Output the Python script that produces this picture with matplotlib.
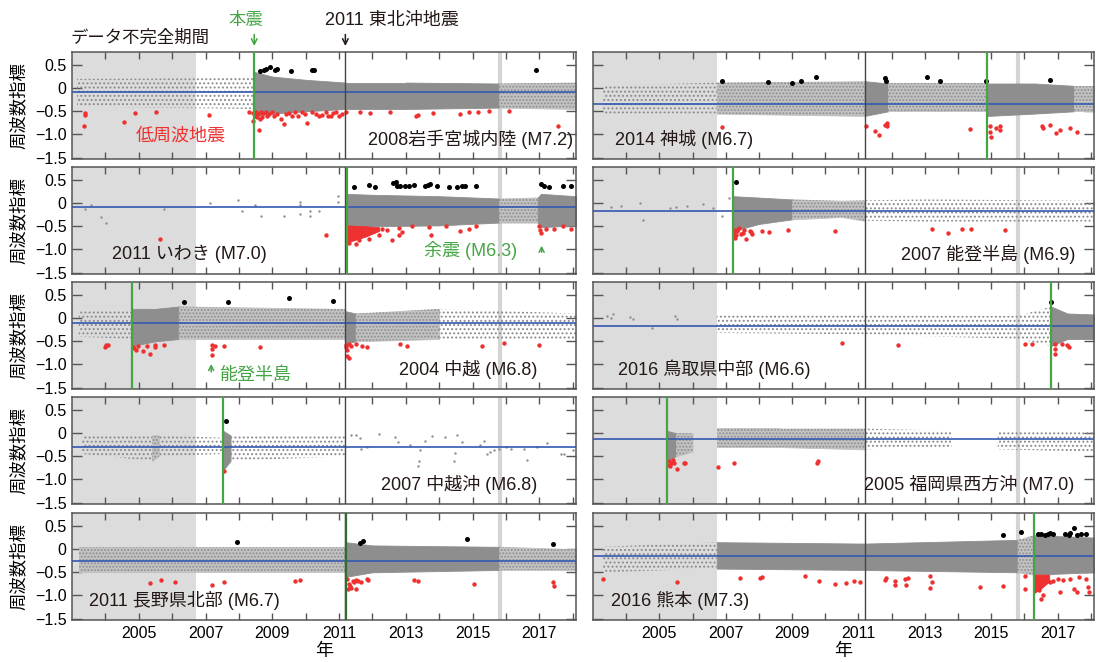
#!/usr/bin/env python3
"""Frequency index time series for ten inland earthquakes (2 x 5 panels)."""

import matplotlib
matplotlib.use("Agg")
import matplotlib.pyplot as plt
from matplotlib.ticker import FixedLocator, FuncFormatter

# Helvetica-like latin glyphs, CJK glyphs fall back to Noto
plt.rcParams['font.family'] = ['Liberation Sans', 'Noto Sans CJK JP', 'DejaVu Sans']
plt.rcParams['hatch.linewidth'] = 0.9

# ---- shared dates ----------------------------------------------------------
INCOMPLETE_END = 2006.73      # end of incomplete-data period
TOHOKU = 2011.19              # 2011 Tohoku-oki
GAP_LINE = 2015.82            # light gray vertical line
XLIM = (2003.0, 2018.1)
YLIM = (-1.53, 0.78)

# ---- per-panel data ---------------------------------------------------------
# cloud knots: (year, lower, upper, density of segment to next knot 0..3)
iwate_cloud = [(2003.15, -0.40, 0.20, 1), (2008.40, -0.45, 0.22, 1), (2008.46, -0.60, 0.35, 3),
               (2009.0, -0.55, 0.25, 3), (2010.0, -0.50, 0.18, 3), (2011.2, -0.45, 0.12, 3),
               (2013.0, -0.45, 0.12, 3), (2015.8, -0.42, 0.10, 2), (2018.1, -0.45, 0.12, 0)]
iwate_red = [(2003.40, -0.54), (2003.40, -0.57), (2003.35, -0.82), (2004.56, -0.73), (2004.88, -0.54),
             (2005.51, -0.52), (2007.09, -0.57), (2008.30, -0.51), (2008.41, -0.54), (2008.41, -0.71),
             (2008.49, -0.60), (2008.56, -0.56), (2008.62, -0.66), (2008.60, -0.90), (2008.72, -0.54),
             (2008.83, -0.60), (2008.99, -0.52), (2009.14, -0.56), (2009.25, -0.67), (2009.35, -0.78),
             (2009.51, -0.54), (2009.67, -0.52), (2009.78, -0.60), (2009.99, -0.56), (2010.04, -0.76),
             (2010.20, -0.52), (2010.41, -0.60), (2010.62, -0.52), (2010.67, -0.60), (2010.83, -0.54),
             (2010.99, -0.60), (2011.20, -0.52), (2008.50, -0.52), (2008.55, -0.62), (2008.65, -0.52),
             (2008.70, -0.62), (2008.80, -0.52), (2008.90, -0.56), (2009.05, -0.60), (2009.40, -0.56),
             (2009.60, -0.60), (2009.90, -0.52), (2010.30, -0.55), (2010.50, -0.57), (2010.75, -0.60),
             (2010.90, -0.52), (2011.10, -0.55), (2011.62, -0.52), (2011.94, -0.54), (2012.52, -0.51),
             (2013.31, -0.60), (2013.36, -0.57), (2013.83, -0.54), (2014.62, -0.56), (2014.89, -0.52),
             (2015.15, -0.52), (2015.50, -0.50), (2016.10, -0.50), (2017.57, -0.81)]
iwate_black = [(2008.64, 0.37), (2008.74, 0.39), (2008.81, 0.41), (2008.93, 0.45), (2009.09, 0.39),
               (2009.14, 0.41), (2009.56, 0.37), (2010.20, 0.40), (2010.25, 0.39), (2016.89, 0.39)]

iwaki_cloud = [(2011.24, -0.55, 0.20, 3), (2012.0, -0.50, 0.18, 3), (2014.0, -0.48, 0.15, 3),
               (2015.8, -0.42, 0.10, 2), (2016.95, -0.42, 0.12, 3), (2017.05, -0.52, 0.20, 3),
               (2018.1, -0.48, 0.15, 0)]
iwaki_gray = [(2003.40, -0.13), (2003.58, -0.05), (2003.87, -0.31), (2004.03, -0.43), (2005.77, -0.13),
              (2007.14, 0.00), (2007.96, 0.07), (2008.09, -0.16), (2008.49, -0.05), (2008.67, -0.28),
              (2009.35, -0.28), (2009.83, 0.02), (2009.83, -0.05), (2009.83, -0.24), (2010.14, -0.18),
              (2010.14, -0.28), (2010.41, -0.18), (2010.96, 0.15), (2010.96, 0.02)]
iwaki_red_band = [(2011.24, -0.85, -0.48), (2011.8, -0.72, -0.50), (2012.2, -0.60, -0.52)]
iwaki_red = [(2005.64, -0.78), (2010.62, -0.69), (2011.30, -0.85), (2011.50, -0.88), (2011.60, -0.80),
             (2011.90, -0.78), (2012.20, -0.68), (2012.30, -0.55), (2012.45, -0.58), (2012.60, -0.80),
             (2012.80, -0.54), (2012.80, -0.69), (2012.90, -0.62), (2013.20, -0.50), (2013.70, -0.52),
             (2013.76, -0.69), (2014.20, -0.50), (2014.62, -0.60), (2014.88, -0.55), (2015.10, -0.50),
             (2017.00, -0.50), (2017.02, -0.58), (2017.05, -0.65), (2017.20, -0.55), (2017.45, -0.56),
             (2017.70, -0.50), (2017.95, -0.55)]
iwaki_black = [(2011.46, 0.34), (2011.90, 0.40), (2012.09, 0.34), (2012.62, 0.43), (2012.70, 0.46),
               (2012.73, 0.37), (2012.83, 0.36), (2012.99, 0.38), (2013.09, 0.36), (2013.25, 0.39),
               (2013.57, 0.37), (2013.67, 0.40), (2013.73, 0.42), (2013.94, 0.36), (2014.31, 0.35),
               (2014.52, 0.34), (2014.68, 0.38), (2014.78, 0.38), (2015.10, 0.38), (2017.05, 0.42),
               (2017.15, 0.36), (2017.30, 0.35), (2017.70, 0.36), (2017.95, 0.37)]

chuetsu_cloud = [(2003.2, -0.40, 0.15, 1), (2004.78, -0.45, 0.15, 1), (2004.80, -0.60, 0.20, 3),
                 (2005.5, -0.50, 0.20, 3), (2006.2, -0.45, 0.25, 2), (2011.17, -0.45, 0.20, 2),
                 (2011.19, -0.55, 0.15, 3), (2011.5, -0.50, 0.10, 2), (2014.0, -0.45, 0.20, 1),
                 (2018.1, -0.45, 0.10, 0)]
chuetsu_red = [(2003.98, -0.62), (2004.03, -0.59), (2004.09, -0.58), (2004.82, -0.62), (2004.85, -0.65),
               (2004.91, -0.69), (2004.98, -0.60), (2005.14, -0.71), (2005.24, -0.60), (2005.33, -0.78),
               (2005.48, -0.62), (2005.49, -0.58), (2005.77, -0.59), (2007.19, -0.58), (2007.19, -0.66),
               (2007.27, -0.60), (2007.19, -0.80), (2007.56, -0.60), (2008.62, -0.62), (2011.20, -0.58),
               (2011.22, -0.63), (2011.25, -0.68), (2011.30, -0.56), (2011.35, -0.60), (2011.25, -0.82),
               (2011.30, -0.87), (2011.50, -0.55), (2011.70, -0.60), (2011.85, -0.62), (2012.83, -0.56),
               (2013.03, -0.60), (2015.28, -0.60), (2015.95, -0.53), (2016.98, -0.58)]
chuetsu_black = [(2006.35, 0.35), (2007.67, 0.35), (2009.51, 0.44), (2010.81, 0.38)]

chuetsuoki_cloud = [(2003.3, -0.45, -0.05, 1), (2005.4, -0.60, -0.05, 2), (2005.6, -0.50, -0.05, 1),
                    (2007.50, -0.45, -0.10, 3), (2007.53, -0.80, 0.05, 3), (2007.75, -0.60, -0.05, 1),
                    (2011.19, -0.50, -0.05, 0), (2018.1, -0.50, -0.05, 0)]
chuetsuoki_gray = [(2011.36, -0.05), (2011.51, -0.05), (2011.62, -0.11), (2011.67, -0.35), (2011.83, -0.31),
                   (2012.20, -0.01), (2012.67, -0.08), (2012.78, -0.19), (2013.13, -0.26), (2013.36, -0.72),
                   (2013.41, -0.61), (2013.43, -0.37), (2013.58, -0.16), (2013.78, -0.06), (2014.18, -0.09),
                   (2014.43, -0.60), (2014.46, -0.42), (2014.53, -0.04), (2014.68, -0.19), (2015.23, -0.26),
                   (2015.33, -0.16), (2015.43, -0.45), (2015.53, -0.41), (2015.63, -0.37), (2015.78, -0.35),
                   (2015.99, -0.31), (2016.16, -0.34), (2016.54, -0.34), (2016.62, -0.57), (2016.94, -0.31),
                   (2017.22, -0.21), (2017.64, -0.45), (2017.74, -0.45), (2018.02, -0.37)]
chuetsuoki_red = [(2007.55, -0.81)]
chuetsuoki_black = [(2007.60, 0.26)]

nagano_cloud = [(2003.2, -0.50, 0.05, 2), (2011.17, -0.50, 0.05, 2), (2011.19, -0.60, 0.15, 3),
                (2012.0, -0.50, 0.08, 3), (2015.8, -0.45, 0.05, 2), (2018.1, -0.45, 0.00, 0)]
nagano_red = [(2005.33, -0.74), (2005.67, -0.67), (2006.09, -0.71), (2007.19, -0.78), (2007.56, -0.72),
              (2009.67, -0.69), (2009.83, -0.67), (2011.25, -0.65), (2011.30, -0.76), (2011.36, -0.84),
              (2011.41, -0.69), (2011.46, -0.72), (2011.51, -0.66), (2011.57, -0.69), (2011.67, -0.71),
              (2011.83, -0.65), (2011.88, -0.66), (2011.51, -0.86), (2011.33, -0.80), (2011.27, -0.87),
              (2013.25, -0.66), (2013.36, -0.69), (2015.04, -0.75), (2017.40, -0.70), (2017.45, -0.80)]
nagano_black = [(2007.93, 0.16), (2011.62, 0.13), (2011.72, 0.17), (2014.83, 0.21), (2017.40, 0.10)]

kamishiro_cloud = [(2003.3, -0.55, 0.05, 1), (2006.73, -0.55, 0.12, 2), (2011.19, -0.60, 0.15, 3),
                   (2011.9, -0.50, 0.10, 2), (2014.87, -0.50, 0.10, 2), (2014.89, -0.60, 0.10, 3),
                   (2016.3, -0.55, 0.10, 3), (2017.5, -0.50, 0.05, 2), (2018.1, -0.50, 0.05, 0)]
kamishiro_red = [(2006.88, -0.84), (2011.24, -0.82), (2011.50, -0.92), (2011.61, -1.02), (2011.80, -0.79),
                 (2011.85, -0.81), (2011.87, -0.76), (2014.36, -0.89), (2014.97, -0.81), (2014.97, -0.94),
                 (2014.99, -1.05), (2015.14, -0.86), (2015.27, -0.81), (2015.27, -0.90), (2016.54, -0.81),
                 (2016.56, -0.86), (2016.77, -0.79), (2016.95, -0.96), (2017.08, -0.90), (2017.39, -0.86),
                 (2017.58, -0.94)]
kamishiro_black = [(2006.90, 0.15), (2008.26, 0.13), (2009.00, 0.11), (2009.26, 0.15), (2009.71, 0.24),
                   (2011.80, 0.21), (2011.82, 0.15), (2013.08, 0.24), (2013.47, 0.15), (2014.83, 0.15),
                   (2016.77, 0.17)]

noto_cloud = [(2007.23, -0.60, 0.15, 3), (2008.0, -0.45, 0.12, 3), (2009.0, -0.35, 0.08, 2),
              (2010.5, -0.30, 0.05, 2), (2011.19, -0.38, 0.06, 1), (2013.0, -0.40, 0.08, 1),
              (2018.1, -0.40, 0.05, 0)]
noto_gray = [(2003.53, -0.09), (2003.85, -0.07), (2004.42, 0.00), (2004.51, -0.37), (2005.31, -0.10),
             (2005.49, -0.09), (2005.83, -0.07), (2006.31, -0.01), (2006.62, -0.10), (2006.88, -0.28),
             (2007.11, 0.11)]
noto_red = [(2007.25, -0.57), (2007.30, -0.69), (2007.35, -0.61), (2007.40, -0.54), (2007.46, -0.67),
            (2007.51, -0.65), (2007.56, -0.57), (2007.61, -0.78), (2007.72, -0.60), (2007.77, -0.63),
            (2007.79, -0.67), (2007.24, -0.62), (2007.26, -0.70), (2007.28, -0.75), (2007.33, -0.58),
            (2008.08, -0.61), (2008.31, -0.63), (2008.87, -0.57), (2010.30, -0.61), (2013.21, -0.55),
            (2013.71, -0.65), (2014.13, -0.55), (2014.39, -0.55), (2015.41, -0.57)]
noto_black = [(2007.32, 0.45)]

tottori_cloud = [(2006.73, -0.32, 0.06, 1), (2011.19, -0.35, 0.06, 1), (2015.8, -0.45, 0.05, 1),
                 (2016.81, -0.60, 0.25, 3), (2017.3, -0.45, 0.10, 3), (2018.1, -0.45, 0.08, 0)]
tottori_gray = [(2003.43, 0.05), (2003.53, 0.00), (2003.59, 0.08), (2004.11, 0.03), (2004.21, -0.02),
                (2004.79, -0.21), (2005.47, 0.05), (2005.52, -0.02)]
tottori_red = [(2010.49, -0.53), (2012.18, -0.57), (2016.01, -0.55), (2016.22, -0.56), (2016.92, -0.55),
               (2016.92, -0.66), (2016.92, -0.77), (2017.13, -0.55), (2017.29, -0.57), (2017.34, -0.62)]
tottori_black = [(2016.80, 0.35)]

fukuoka_cloud = [(2005.23, -0.60, 0.05, 3), (2005.5, -0.50, 0.00, 2), (2006.0, -0.40, 0.00, 0),
                 (2006.73, -0.30, 0.10, 2), (2008.6, -0.30, 0.10, 2), (2011.19, -0.35, 0.10, 1),
                 (2013.8, -0.30, 0.05, 0), (2015.2, -0.35, 0.05, 1), (2018.1, -0.40, 0.05, 0)]
fukuoka_red = [(2005.28, -0.60), (2005.28, -0.68), (2005.31, -0.71), (2005.36, -0.64), (2005.42, -0.58),
               (2005.45, -0.65), (2005.52, -0.77), (2005.73, -0.65), (2005.78, -0.64), (2006.78, -0.74),
               (2007.25, -0.64), (2009.74, -0.64), (2009.78, -0.60)]
fukuoka_black = []

kumamoto_cloud = [(2003.3, -0.50, 0.05, 1), (2006.73, -0.42, 0.15, 3), (2011.19, -0.45, 0.12, 3),
                  (2015.8, -0.50, 0.20, 2), (2016.29, -0.55, 0.30, 3), (2018.1, -0.50, 0.25, 0)]
kumamoto_red_band = [(2016.29, -0.95, -0.55), (2016.5, -0.85, -0.55), (2016.75, -0.70, -0.55)]
kumamoto_red = [(2003.29, -0.65), (2005.52, -0.72), (2007.44, -0.62), (2008.03, -0.62), (2008.10, -0.60),
                (2009.39, -0.59), (2009.81, -0.68), (2010.30, -0.75), (2010.62, -0.74), (2010.86, -0.68),
                (2011.06, -0.70), (2011.80, -0.66), (2011.83, -0.62), (2012.09, -0.68), (2012.09, -0.77),
                (2012.39, -0.65), (2012.42, -0.77), (2012.50, -0.62), (2013.16, -0.57), (2013.21, -0.72),
                (2013.16, -0.83), (2014.67, -0.81), (2015.35, -0.80), (2016.01, -0.59), (2016.01, -0.87),
                (2016.45, -0.89), (2016.56, -1.00), (2016.50, -1.08), (2016.77, -0.72), (2016.87, -0.68),
                (2017.03, -0.65), (2017.08, -0.92), (2017.18, -0.66), (2017.39, -0.65), (2017.50, -0.85),
                (2017.60, -0.92), (2017.65, -0.60), (2017.86, -0.65), (2017.92, -0.81), (2017.94, -0.92)]
kumamoto_black = [(2015.35, 0.30), (2015.91, 0.38), (2016.40, 0.32), (2016.50, 0.33), (2016.61, 0.30),
                  (2016.71, 0.33), (2016.77, 0.35), (2016.87, 0.32), (2017.24, 0.33), (2017.34, 0.30),
                  (2017.39, 0.35), (2017.50, 0.45), (2017.60, 0.30), (2017.71, 0.32), (2017.86, 0.33)]

# label, mainshock year, mean level (blue line)
labels = ["2008岩手宮城内陸 (M7.2)", "2011 いわき (M7.0)", "2004 中越 (M6.8)", "2007 中越沖 (M6.8)",
          "2011 長野県北部 (M6.7)", "2014 神城 (M6.7)", "2007 能登半島 (M6.9)", "2016 鳥取県中部 (M6.6)",
          "2005 福岡県西方沖 (M7.0)", "2016 熊本 (M7.3)"]
mainshocks = [2008.46, 2011.24, 2004.80, 2007.53, 2011.20, 2014.89, 2007.23, 2016.81, 2005.23, 2016.29]
mean_levels = [-0.075, -0.09, -0.11, -0.295, -0.26, -0.34, -0.165, -0.16, -0.135, -0.14]

clouds = [iwate_cloud, iwaki_cloud, chuetsu_cloud, chuetsuoki_cloud, nagano_cloud,
          kamishiro_cloud, noto_cloud, tottori_cloud, fukuoka_cloud, kumamoto_cloud]
grays = [[], iwaki_gray, [], chuetsuoki_gray, [], [], noto_gray, tottori_gray, [], []]
reds = [iwate_red, iwaki_red, chuetsu_red, chuetsuoki_red, nagano_red,
        kamishiro_red, noto_red, tottori_red, fukuoka_red, kumamoto_red]
blacks = [iwate_black, iwaki_black, chuetsu_black, chuetsuoki_black, nagano_black,
          kamishiro_black, noto_black, tottori_black, fukuoka_black, kumamoto_black]
red_bands = [[], iwaki_red_band, [], [], [], [], [], [], [], kumamoto_red_band]

# ---- styles / layout ----------------------------------------------------------
GRAY = '#8e8e8e'
RED = '#ee3030'
GREEN = '#45a545'
BLUE = '#3558b0'
SPINE = '#555555'
W, H = 1096, 662

# label placement: (x year, ha)
label_pos = [(2018.0, 'right'), (2004.2, 'left'), (2016.95, 'right'), (2016.95, 'right'), (2003.5, 'left'),
             (2003.65, 'left'), (2017.55, 'right'), (2003.75, 'left'), (2017.5, 'right'), (2003.55, 'left')]


def draw_cloud(ax, knots):
    for (t0, lo0, hi0, d), (t1, lo1, hi1, _) in zip(knots[:-1], knots[1:]):
        xs, lo, hi = [t0, t1], [lo0, lo1], [hi0, hi1]
        if d == 3:
            # solid core; thin edge of the same colour hides seams between segments
            ax.fill_between(xs, lo, hi, facecolor=GRAY, edgecolor=GRAY, lw=0.6, zorder=2)
        elif d == 2:
            ax.fill_between(xs, lo, hi, facecolor='#c2c2c2', edgecolor='#c2c2c2', lw=0.6, zorder=2)
            ax.fill_between(xs, lo, hi, facecolor='none', edgecolor=GRAY,
                            hatch='.....', lw=0, zorder=2)
        elif d == 1:
            ax.fill_between(xs, lo, hi, facecolor='none', edgecolor='#8a8a8a',
                            hatch='....', lw=0, zorder=2)


def ytick_fmt(v, pos):
    if abs(v) < 1e-9:
        return '0'
    return f'{v:.1f}'.replace('-', '\u2212')


def xtick_fmt(v, pos):
    return f'{int(round(v))}' if int(round(v)) % 2 == 1 else ''


def create_figure():
    fig = plt.figure(figsize=(W / 100, H / 100), dpi=100)
    row_tops = [52, 167, 282, 397, 513]
    panel_h = 107
    col_x = [(72, 504), (593, 501)]

    axes = []
    for i in range(10):
        col, row = divmod(i, 5)
        x0, w = col_x[col]
        top = row_tops[row]
        ax = fig.add_axes([x0 / W, 1 - (top + panel_h) / H, w / W, panel_h / H])
        axes.append(ax)

        ax.set_xlim(*XLIM)
        ax.set_ylim(*YLIM)
        ax.axvspan(XLIM[0], INCOMPLETE_END, color='#dcdcdc', lw=0, zorder=0)
        ax.axvline(GAP_LINE, color='#d4d4d4', lw=3, zorder=1)

        draw_cloud(ax, clouds[i])
        if grays[i]:
            gx, gy = zip(*grays[i])
            ax.scatter(gx, gy, s=3, color=GRAY, lw=0, zorder=2)
        for (t0, lo0, hi0), (t1, lo1, hi1) in zip(red_bands[i][:-1], red_bands[i][1:]):
            ax.fill_between([t0, t1], [lo0, lo1], [hi0, hi1], facecolor=RED, edgecolor=RED,
                            lw=0.6, zorder=3)
        if reds[i]:
            rx, ry = zip(*reds[i])
            ax.scatter(rx, ry, s=10, color=RED, lw=0, zorder=3)
        if blacks[i]:
            bx, by = zip(*blacks[i])
            ax.scatter(bx, by, s=13, color='black', lw=0, zorder=3)

        ax.axhline(mean_levels[i], color=BLUE, lw=1.2, zorder=4)
        ax.axvline(TOHOKU, color='#444444', lw=1.0, zorder=4)
        ax.axvline(mainshocks[i], color='#2e6e2e' if i == 4 else GREEN, lw=1.6, zorder=5)

        lx, ha = label_pos[i]
        ax.text(lx, -1.1, labels[i], ha=ha, va='center', fontsize=13, color='#231815', zorder=6)

        ax.xaxis.set_major_locator(FixedLocator(list(range(2004, 2019))))
        ax.yaxis.set_major_locator(FixedLocator([-1.5, -1.0, -0.5, 0, 0.5]))
        ax.yaxis.set_major_formatter(FuncFormatter(ytick_fmt))
        ax.xaxis.set_major_formatter(FuncFormatter(xtick_fmt))
        ax.tick_params(direction='in', top=True, right=True, length=5, width=1.0,
                       color=SPINE, labelsize=11.5, pad=4)
        ax.tick_params(axis='y', length=7)
        if col == 1:
            ax.tick_params(labelleft=False)
        else:
            ax.set_ylabel('周波数指標', fontsize=12.5, labelpad=6)
        if row != 4:
            ax.tick_params(labelbottom=False)
        else:
            ax.set_xlabel('年', fontsize=13, labelpad=2)
        for sp in ax.spines.values():
            sp.set_color(SPINE)
            sp.set_linewidth(1.1)

    ax1 = axes[0]
    # annotations above the first panel
    ax1.text(2002.95, 1.14, 'データ不完全期間', transform=ax1.get_xaxis_transform(),
             ha='left', va='center', fontsize=12.5, color='#231815')
    ax1.text(mainshocks[0] - 0.25, 1.30, '本震', transform=ax1.get_xaxis_transform(),
             ha='center', va='center', fontsize=12.5, color=GREEN)
    ax1.annotate('', xy=(mainshocks[0], 1.03), xytext=(mainshocks[0], 1.19),
                 xycoords=ax1.get_xaxis_transform(),
                 arrowprops=dict(arrowstyle='->,head_length=0.4,head_width=0.2', color=GREEN, lw=1.1))
    ax1.text(TOHOKU - 0.62, 1.30, '2011 東北沖地震', transform=ax1.get_xaxis_transform(),
             ha='left', va='center', fontsize=13, color='#231815')
    ax1.annotate('', xy=(TOHOKU, 1.03), xytext=(TOHOKU, 1.19),
                 xycoords=ax1.get_xaxis_transform(),
                 arrowprops=dict(arrowstyle='->,head_length=0.4,head_width=0.2', color='#231815', lw=1.1))
    ax1.text(2006.25, -1.04, '低周波地震', ha='center', va='center', fontsize=13, color=RED, zorder=6)

    # aftershock note (Iwaki panel)
    ax2 = axes[1]
    ax2.text(2013.55, -1.02, '余震 (M6.3)', ha='left', va='center', fontsize=13, color=GREEN, zorder=6)
    ax2.annotate('', xy=(2017.07, -0.86), xytext=(2017.07, -1.12),
                 arrowprops=dict(arrowstyle='->,head_length=0.35,head_width=0.18', color=GREEN, lw=1.1))

    # Noto note (Chuetsu panel)
    ax3 = axes[2]
    ax3.text(2007.42, -1.24, '能登半島', ha='left', va='center', fontsize=13, color=GREEN, zorder=6)
    ax3.annotate('', xy=(2007.17, -0.93), xytext=(2007.17, -1.22),
                 arrowprops=dict(arrowstyle='->,head_length=0.35,head_width=0.18', color=GREEN, lw=1.1))

    fig.savefig('out.png', dpi=100, facecolor='white')
    plt.close(fig)


if __name__ == "__main__":
    create_figure()
